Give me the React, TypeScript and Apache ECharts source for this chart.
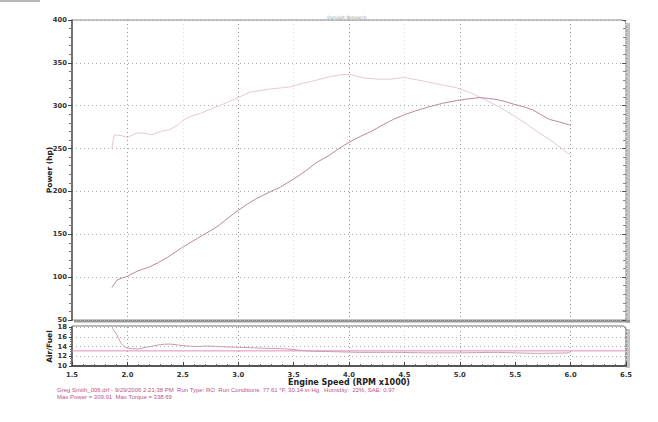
import React, { useEffect, useRef } from "react";
import * as echarts from "echarts";

// RPM x1000 and values
const torqueRpm = [1.86, 1.88, 1.95, 2.0, 2.08, 2.15, 2.22, 2.3, 2.38, 2.45, 2.5, 2.58, 2.66, 2.75, 2.85, 2.99, 3.11, 3.26, 3.4, 3.47, 3.58, 3.65, 3.71, 3.83, 3.92, 4.01, 4.08, 4.16, 4.27, 4.37, 4.49, 4.58, 4.7, 4.85, 4.97, 5.1, 5.21, 5.35, 5.48, 5.6, 5.72, 5.85, 5.97, 6.0];
const torqueVal = [250, 266, 265, 263, 268, 268, 266, 270, 272, 277, 283, 288, 291, 296, 301, 309, 316, 319, 321, 322, 326, 328, 330, 334, 336, 336.5, 334, 332, 331, 331, 333, 331, 328, 324, 321, 315, 308, 299, 289, 279, 268, 257, 245, 243];

const powerRpm = [1.86, 1.91, 2.0, 2.09, 2.2, 2.28, 2.36, 2.5, 2.68, 2.8, 2.9, 2.99, 3.08, 3.17, 3.28, 3.38, 3.53, 3.62, 3.71, 3.82, 3.92, 4.01, 4.1, 4.2, 4.31, 4.4, 4.49, 4.6, 4.73, 4.85, 4.97, 5.08, 5.18, 5.26, 5.34, 5.41, 5.48, 5.57, 5.66, 5.74, 5.81, 5.9, 5.98, 6.0];
const powerVal = [88, 97, 101, 107, 112, 117, 123, 135, 149, 158, 168, 177, 185, 192, 199, 205, 217, 225, 234, 242, 251, 258, 264, 270, 278, 284, 289, 294, 299, 303, 306, 308, 309.5, 308.5, 307, 305, 302, 299, 295, 289, 284, 281, 278, 277];

const afrRpm = [1.86, 1.9, 1.93, 1.96, 2.0, 2.09, 2.16, 2.23, 2.3, 2.38, 2.46, 2.54, 2.63, 2.72, 2.81, 2.9, 3.05, 3.17, 3.3, 3.44, 3.53, 3.62, 3.75, 3.92, 4.1, 4.4, 4.7, 5.0, 5.3, 5.5, 5.7, 6.0];
const afrVal = [17.8, 16.6, 15.2, 14.2, 13.7, 13.5, 13.8, 14.1, 14.4, 14.5, 14.3, 14.1, 14.0, 14.1, 14.0, 13.9, 13.8, 13.7, 13.6, 13.5, 13.3, 13.1, 13.0, 12.9, 12.8, 12.8, 12.7, 12.7, 12.8, 12.7, 12.6, 12.7];

const afrTargetRpm = [1.5, 6.5];
const afrTargetVal = [13.1, 13.1];

const titleText = "Dynojet Research";
const footer1 = "Greg Smith_006.drf - 9/29/2006 2:21:38 PM  Run Type: RO  Run Conditions: 77.61 °F, 30.14 in-Hg,  Humidity:  22%, SAE: 0.97";
const footer2 = "Max Power = 309.91  Max Torque = 338.69";

const zip = (a: number[], b: number[]) => a.map((v, i) => [v, b[i]]);

const GL = 72, GW = 554, T1 = 20, H1 = 300, T2 = 327, H2 = 39;
const labelFont = { fontFamily: "DejaVu Sans", fontWeight: "bold" as const, color: "#333", fontSize: 6.8 };
const nameFont = { fontFamily: "DejaVu Sans", fontWeight: "bold" as const, color: "#222" };

export default function App() {
  const ref = useRef<HTMLDivElement>(null);
  useEffect(() => {
    if (!ref.current) return;
    const chart = echarts.init(ref.current, null, { renderer: "svg" });
    const dotted = (c: any) => ({ show: true, lineStyle: { type: [1, 3], color: c, width: 1 } });
    chart.setOption({
      animation: false,
      backgroundColor: "#fff",
      grid: [
        { left: GL, top: T1, width: GW, height: H1 },
        { left: GL, top: T2, width: GW, height: H2 },
      ],
      xAxis: [
        {
          type: "value", gridIndex: 0, min: 1.5, max: 6.5, interval: 0.5,
          axisLine: { show: false }, axisTick: { show: false }, axisLabel: { show: false },
          splitLine: dotted(["#ddd", "#999"]),
        },
        {
          type: "value", gridIndex: 1, min: 1.5, max: 6.5, interval: 0.5,
          axisLine: { show: true, lineStyle: { color: "#555", width: 2 } },
          axisTick: { show: true, inside: true, length: 4, lineStyle: { color: "#444" } },
          minorTick: { show: true, splitNumber: 5, length: 2, lineStyle: { color: "#666" } },
          axisLabel: { ...labelFont, margin: 5, formatter: (v: number) => v.toFixed(1) },
          splitLine: dotted(["#ddd", "#999"]),
          name: "Engine Speed (RPM x1000)", nameLocation: "middle", nameGap: 12, nameMoveOverlap: false,
          nameTextStyle: { ...nameFont, fontSize: 8 },
        },
      ],
      yAxis: [
        {
          type: "value", gridIndex: 0, min: 50, max: 400, interval: 50,
          axisLine: { show: true, lineStyle: { color: "#555", width: 1.5 } },
          axisTick: { show: true, length: 4, lineStyle: { color: "#444" } },
          minorTick: { show: true, splitNumber: 5, length: 3, lineStyle: { color: "#777" } },
          axisLabel: { ...labelFont, margin: 5 },
          splitLine: dotted("#aaa"),
          name: "Power (hp)", nameLocation: "middle", nameGap: 19, nameMoveOverlap: false,
          nameTextStyle: { ...nameFont, fontSize: 7.5 },
        },
        {
          type: "value", gridIndex: 0, min: 50, max: 400, interval: 50, position: "right",
          axisLine: { show: false },
          axisTick: { show: true, inside: true, length: 4, lineStyle: { color: "#555" } },
          minorTick: { show: true, splitNumber: 5, length: 3, lineStyle: { color: "#888" } },
          axisLabel: { show: false }, splitLine: { show: false },
        },
        {
          type: "value", gridIndex: 1, min: 10, max: 18, interval: 2,
          axisLine: { show: true, lineStyle: { color: "#555", width: 1.5 } },
          axisTick: { show: true, length: 3, lineStyle: { color: "#444" } },
          minorTick: { show: true, splitNumber: 4, length: 2, lineStyle: { color: "#777" } },
          axisLabel: { ...labelFont, margin: 5 },
          splitLine: dotted("#aaa"),
          name: "Air/Fuel", nameLocation: "middle", nameGap: 19, nameMoveOverlap: false,
          nameTextStyle: { ...nameFont, fontSize: 7.5 },
        },
      ],
      series: [
        {
          name: "Torque", type: "line", xAxisIndex: 0, yAxisIndex: 0, data: zip(torqueRpm, torqueVal),
          showSymbol: false, lineStyle: { color: "#e6c8d6", width: 1 },
        },
        {
          name: "Power", type: "line", xAxisIndex: 0, yAxisIndex: 0, data: zip(powerRpm, powerVal),
          showSymbol: false, lineStyle: { color: "#bb86a0", width: 1 },
        },
        {
          name: "Target", type: "line", xAxisIndex: 1, yAxisIndex: 2, data: zip(afrTargetRpm, afrTargetVal),
          showSymbol: false, lineStyle: { color: "#e38cc0", width: 1 },
        },
        {
          name: "Air/Fuel", type: "line", xAxisIndex: 1, yAxisIndex: 2, data: zip(afrRpm, afrVal),
          showSymbol: false, smooth: 0.3, lineStyle: { color: "#c99ab2", width: 1 },
        },
      ],
      graphic: [
        { type: "rect", shape: { x: 0, y: 0, width: 40, height: 2 }, style: { fill: "#b8b8b8" }, silent: true },
        // top panel frame + shadow
        { type: "rect", shape: { x: GL + GW, y: T1 + 3, width: 4, height: H1 }, style: { fill: "#c4c4c4" }, silent: true },
        { type: "rect", shape: { x: GL + 2, y: T1 + H1, width: GW + 2, height: 2.5 }, style: { fill: "#999" }, silent: true },
        { type: "rect", shape: { x: GL, y: T1, width: GW, height: H1, r: [0, 4, 0, 0] }, style: { fill: "none", stroke: "#888", lineWidth: 1 }, silent: true },
        // bottom panel frame + shadow
        { type: "rect", shape: { x: GL + GW, y: T2 + 2, width: 4, height: H2 }, style: { fill: "#c4c4c4" }, silent: true },
        { type: "rect", shape: { x: GL, y: T2 - 1, width: GW, height: H2 + 1, r: [0, 4, 4, 0] }, style: { fill: "none", stroke: "#777", lineWidth: 1.2 }, silent: true },
        {
          type: "text", x: 347, y: 17, silent: true,
          style: { text: titleText, fontSize: 4.5, fill: "#999", align: "center", verticalAlign: "middle", fontFamily: "DejaVu Sans" },
        },
        {
          type: "text", x: 57, y: 390, silent: true,
          style: { text: footer1, fontSize: 6, fill: "#c0508f", verticalAlign: "middle", fontFamily: "Liberation Sans" },
        },
        {
          type: "text", x: 57, y: 397, silent: true,
          style: { text: footer2, fontSize: 6, fill: "#c0508f", verticalAlign: "middle", fontFamily: "Liberation Sans" },
        },
      ],
    });
    return () => chart.dispose();
  }, []);
  return <div ref={ref} style={{ position: "fixed", left: 0, top: 0, width: 658, height: 422 }} />;
}
